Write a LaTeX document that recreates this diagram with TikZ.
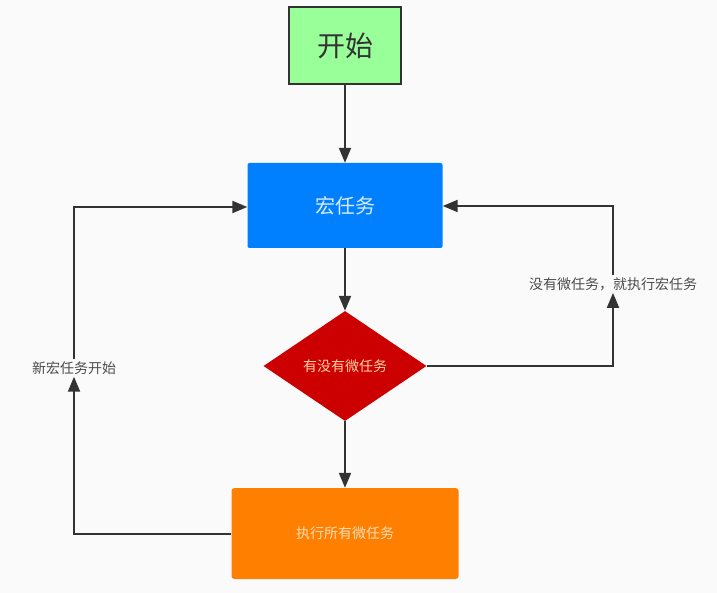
\documentclass[tikz,border=0pt]{standalone}
\usepackage{fontspec}
\setmainfont{Noto Sans CJK SC}
\usetikzlibrary{arrows.meta,shapes.geometric}
\definecolor{linec}{HTML}{333333}
\definecolor{startg}{HTML}{99FF99}
\definecolor{macrob}{HTML}{0080FF}
\definecolor{condr}{HTML}{CC0000}
\definecolor{execo}{HTML}{FF8000}
\definecolor{bgc}{HTML}{FAFAFA}
\tikzset{
  conn/.style={draw=linec, line width=2pt, -{Triangle[length=15pt,width=12pt]}},
  lbl/.style={text=black!70, font=\fontsize{14pt}{16pt}\selectfont, inner sep=2pt},
}
\begin{document}
\begin{tikzpicture}[x=1pt,y=-1pt]
\fill[bgc] (0,0) rectangle (717,593);
\useasboundingbox (0,0) rectangle (717,593);
\node[draw=linec, line width=2.6pt, fill=startg, minimum width=112pt, minimum height=77pt, inner sep=0pt, text=linec, font=\fontsize{28pt}{32pt}\selectfont] (start) at (345,45.5) {开始};
\node[fill=macrob, rounded corners=2pt, minimum width=195pt, minimum height=85pt, inner sep=0pt, text=white!85!macrob, font=\fontsize{20pt}{24pt}\selectfont] (macro) at (345,205.5) {宏任务};
\node[diamond, fill=condr, minimum width=163pt, minimum height=110pt, inner sep=0pt, aspect=1.48, text=orange!35!white, font=\fontsize{14pt}{16pt}\selectfont] (cond) at (345,366) {有没有微任务};
\node[fill=execo, rounded corners=3pt, minimum width=227pt, minimum height=91pt, inner sep=0pt, text=white!72!execo, font=\fontsize{14pt}{16pt}\selectfont] (exec) at (345,533.5) {执行所有微任务};
\node[lbl] (rlab) at (613,284) {没有微任务，就执行宏任务};
\node[lbl] (llab) at (74,368) {新宏任务开始};
\coordinate (r1) at (613,366);
\coordinate (r2) at (613,206);
\coordinate (l1) at (74,533.5);
\coordinate (l2) at (74,207);
\draw[conn] (start.south) -- (macro.north);
\draw[conn] (macro.south) -- (cond.north);
\draw[conn] (cond.south) -- (exec.north);
\draw[conn] (cond.east) -- (r1) -- (rlab.south);
\draw[conn] (rlab.north) -- (r2) -- (macro.east |- r2);
\draw[conn] (exec.west) -- (l1) -- (llab.south);
\draw[conn] (llab.north) -- (l2) -- (macro.west |- l2);
\end{tikzpicture}
\end{document}
